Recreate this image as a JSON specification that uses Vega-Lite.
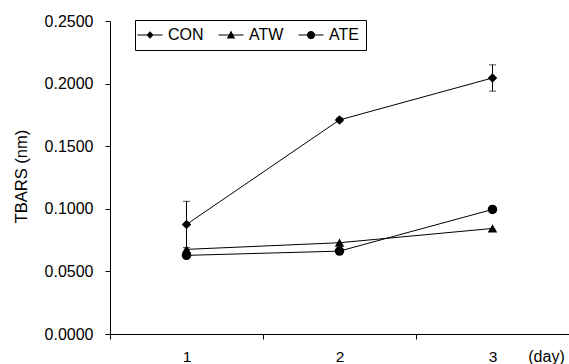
{
  "$schema": "https://vega.github.io/schema/vega-lite/v6.json",
  "width": 459,
  "height": 313,
  "autosize": {"type": "none"},
  "padding": {"left": 110, "top": 21, "right": 0, "bottom": 30},
  "background": "white",
  "config": {
    "view": {"stroke": null},
    "font": "Liberation Sans",
    "axis": {
      "grid": false,
      "domainColor": "black",
      "tickColor": "black",
      "labelColor": "black",
      "titleColor": "black",
      "titleFontWeight": "normal",
      "labelFont": "Liberation Sans",
      "titleFont": "Liberation Sans",
      "tickSize": 5,
      "domainWidth": 1,
      "tickWidth": 1
    }
  },
  "data": {
    "values": [
      {"day": "1", "group": "CON", "value": 0.0875, "lo": 0.069, "hi": 0.106},
      {"day": "2", "group": "CON", "value": 0.171, "lo": 0.1695, "hi": 0.1725},
      {"day": "3", "group": "CON", "value": 0.2045, "lo": 0.194, "hi": 0.215},
      {"day": "1", "group": "ATW", "value": 0.0676},
      {"day": "2", "group": "ATW", "value": 0.0729},
      {"day": "3", "group": "ATW", "value": 0.0843},
      {"day": "1", "group": "ATE", "value": 0.0628},
      {"day": "2", "group": "ATE", "value": 0.0662},
      {"day": "3", "group": "ATE", "value": 0.0995}
    ]
  },
  "encoding": {
    "x": {
      "field": "day",
      "type": "ordinal",
      "scale": {"type": "band", "paddingInner": 0, "paddingOuter": 0, "domain": ["1", "2", "3"]},
      "axis": {
        "title": "(day)",
        "labelAngle": 0,
        "tickBand": "extent",
        "labelFontSize": 15.5,
        "labelPadding": 10,
        "titleFontSize": 16,
        "titleX": 436,
        "titleY": 14,
        "titleBaseline": "top",
        "titleAlign": "center"
      }
    }
  },
  "layer": [
    {
      "mark": {"type": "line", "color": "black", "strokeWidth": 1},
      "encoding": {
        "y": {
          "field": "value",
          "type": "quantitative",
          "title": "TBARS (nm)",
          "scale": {"domain": [0, 0.25], "nice": false},
          "axis": {
            "values": [0, 0.05, 0.1, 0.15, 0.2, 0.25],
            "format": ".4f",
            "labelFontSize": 16,
            "labelPadding": 12,
            "titleFontSize": 16.5,
            "titleX": -81,
            "titleY": 155,
            "titleBaseline": "bottom"
          }
        },
        "detail": {"field": "group"}
      }
    },
    {
      "transform": [{"filter": "isValid(datum.lo)"}],
      "mark": {"type": "errorbar", "ticks": {"size": 7, "color": "black"}, "rule": {"color": "black"}},
      "encoding": {
        "y": {"field": "lo", "type": "quantitative", "title": "TBARS (nm)"},
        "y2": {"field": "hi"}
      }
    },
    {
      "mark": {"type": "point", "filled": true, "color": "black", "opacity": 1},
      "encoding": {
        "y": {"field": "value", "type": "quantitative", "title": "TBARS (nm)"},
        "shape": {
          "field": "group",
          "type": "nominal",
          "scale": {"domain": ["CON", "ATW", "ATE"], "range": ["diamond", "triangle-up", "circle"]},
          "legend": null
        },
        "size": {"value": 90}
      }
    },
    {
      "transform": [{"filter": "false"}],
      "mark": {"type": "point", "filled": true, "color": "black", "opacity": 1},
      "encoding": {
        "y": {"field": "value", "type": "quantitative", "title": "TBARS (nm)"},
        "shape": {
          "field": "group",
          "type": "nominal",
          "scale": {
            "domain": ["CON", "ATW", "ATE"],
            "range": [
              "M-1.67,-0.07L1.67,-0.07L1.67,0.07L-1.67,0.07ZM0,-0.5L0.47,0L0,0.5L-0.47,0Z",
              "M-1.67,-0.07L1.67,-0.07L1.67,0.07L-1.67,0.07ZM0,-0.6L0.55,0.45L-0.55,0.45Z",
              "M-1.67,-0.07L1.67,-0.07L1.67,0.07L-1.67,0.07ZM-0.55,0A0.55,0.55,0,1,1,0.55,0A0.55,0.55,0,1,1,-0.55,0Z"
            ]
          },
          "legend": {
            "orient": "none",
            "legendX": 25,
            "legendY": -1,
            "direction": "horizontal",
            "columns": 3,
            "title": null,
            "symbolSize": 225,
            "symbolStrokeWidth": 0,
            "symbolFillColor": "black",
            "symbolOpacity": 1,
            "labelFontSize": 16,
            "labelColor": "black",
            "labelFont": "Liberation Sans",
            "labelOffset": 10,
            "columnPadding": 14,
            "strokeColor": "black",
            "padding": 7,
            "encode": {
              "symbols": {
                "update": {
                  "fill": {"value": "black"},
                  "opacity": {"value": 1}
                }
              }
            }
          }
        }
      }
    }
  ],
  "resolve": {"scale": {"shape": "independent"}}
}
